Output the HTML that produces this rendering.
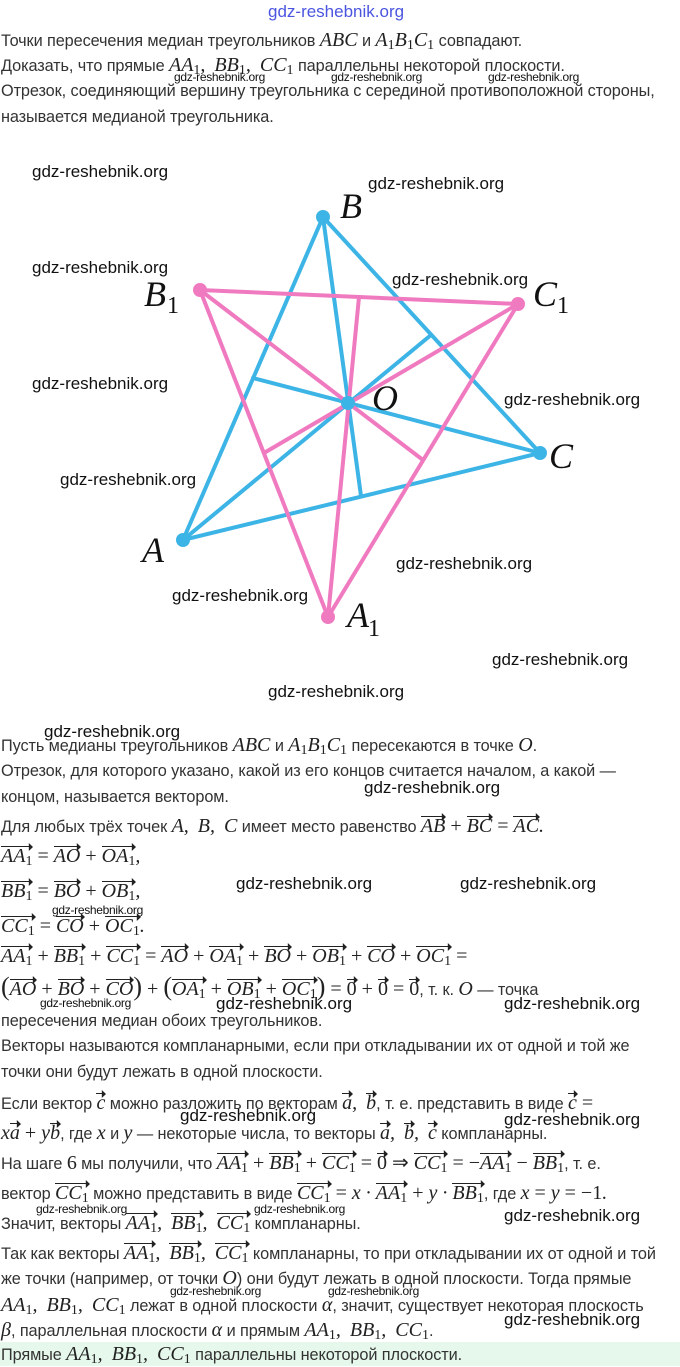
<!DOCTYPE html>
<html><head><meta charset="utf-8"><style>
body{margin:0;width:680px;height:1366px;position:relative;background:#fff;overflow:hidden;font-family:"Liberation Sans",sans-serif;color:#333}
.l{position:absolute;left:1px;font-size:16.3px;line-height:22px;white-space:nowrap;letter-spacing:-0.1px}
.m{font-family:"Liberation Serif",serif;font-style:italic;font-size:20px;color:#222;letter-spacing:0}
.n{font-family:"Liberation Serif",serif;font-style:normal;font-size:20px;color:#222}
sub{font-style:normal;font-size:14px;vertical-align:-3px;line-height:0}
.c{margin-right:9px}
.v{display:inline-block;position:relative;border-top:1.2px solid #222;line-height:18px;margin-top:4px;padding-top:0}
.v::after{content:"";position:absolute;right:-1px;top:-4.5px;border-left:7px solid #222;border-top:4px solid transparent;border-bottom:4px solid transparent;transform:scaleX(.6);transform-origin:right}
.w{position:absolute;font-family:"Liberation Sans",sans-serif;font-size:17px;color:#111;white-space:nowrap}
.ws{position:absolute;font-family:"Liberation Sans",sans-serif;font-size:12px;color:#111;white-space:nowrap;letter-spacing:-.3px}
.green{position:absolute;left:0;top:1342px;width:680px;height:24px;background:#e6f8ec}
</style></head><body>
<div class="w" style="left:268px;top:2px;color:#4b55e0;font-size:17px">gdz-reshebnik.org</div>
<div class="l" style="top:29px">Точки пересечения медиан треугольников <span class="m">ABC</span> и <span class="m">A<sub>1</sub>B<sub>1</sub>C<sub>1</sub></span> совпадают.</div>
<div class="l" style="top:54px">Доказать, что прямые <span class="m">AA<sub>1</sub>,<span class="c"></span>BB<sub>1</sub>,<span class="c"></span>CC<sub>1</sub></span> параллельны некоторой плоскости.</div>
<div class="ws" style="left:174px;top:70px">gdz-reshebnik.org</div>
<div class="ws" style="left:331px;top:70px">gdz-reshebnik.org</div>
<div class="ws" style="left:488px;top:70px">gdz-reshebnik.org</div>
<div class="l" style="top:80px">Отрезок, соединяющий вершину треугольника с серединой противоположной стороны,</div>
<div class="l" style="top:106px">называется медианой треугольника.</div>

<svg style="position:absolute;left:0;top:0" width="680" height="700">
<g stroke="#3db4e6" stroke-width="4" fill="none" stroke-linecap="round">
<polygon points="183,540 323,217 540,453"/>
<line x1="183" y1="540" x2="431" y2="335"/>
<line x1="323" y1="217" x2="361" y2="496"/>
<line x1="540" y1="453" x2="253" y2="378"/>
</g>
<g stroke="#f07ac0" stroke-width="4" fill="none" stroke-linecap="round">
<polygon points="328,617 200,290 518,304"/>
<line x1="328" y1="617" x2="359" y2="297"/>
<line x1="200" y1="290" x2="423" y2="460"/>
<line x1="518" y1="304" x2="264" y2="453"/>
</g>
<g fill="#3db4e6"><circle cx="323" cy="217" r="7"/><circle cx="540" cy="453" r="7"/><circle cx="183" cy="540" r="7"/><circle cx="348" cy="403" r="7"/></g>
<g fill="#f07ac0"><circle cx="200" cy="290" r="7"/><circle cx="518" cy="304" r="7"/><circle cx="328" cy="617" r="7"/></g>
<g font-family="Liberation Serif" font-style="italic" font-size="36" fill="#111">
<text x="340" y="218">B</text>
<text x="144" y="306">B</text><text x="167" y="313" font-style="normal" font-size="24">1</text>
<text x="533" y="306">C</text><text x="557" y="313" font-style="normal" font-size="24">1</text>
<text x="372" y="410">O</text>
<text x="549" y="468">C</text>
<text x="142" y="562">A</text>
<text x="347" y="627">A</text><text x="368" y="636" font-style="normal" font-size="24">1</text>
</g>
</svg>
<div class="w" style="left:32px;top:162px">gdz-reshebnik.org</div>
<div class="w" style="left:368px;top:174px">gdz-reshebnik.org</div>
<div class="w" style="left:32px;top:258px">gdz-reshebnik.org</div>
<div class="w" style="left:392px;top:270px">gdz-reshebnik.org</div>
<div class="w" style="left:32px;top:374px">gdz-reshebnik.org</div>
<div class="w" style="left:504px;top:390px">gdz-reshebnik.org</div>
<div class="w" style="left:60px;top:470px">gdz-reshebnik.org</div>
<div class="w" style="left:396px;top:554px">gdz-reshebnik.org</div>
<div class="w" style="left:172px;top:586px">gdz-reshebnik.org</div>
<div class="w" style="left:492px;top:650px">gdz-reshebnik.org</div>
<div class="w" style="left:268px;top:682px">gdz-reshebnik.org</div>
<div class="w" style="left:44px;top:722px">gdz-reshebnik.org</div>

<div class="l" style="top:734px">Пусть медианы треугольников <span class="m">ABC</span> и <span class="m">A<sub>1</sub>B<sub>1</sub>C<sub>1</sub></span> пересекаются в точке <span class="m">O</span>.</div>
<div class="l" style="top:760px">Отрезок, для которого указано, какой из его концов считается началом, а какой —</div>
<div class="w" style="left:364px;top:778px">gdz-reshebnik.org</div>
<div class="l" style="top:786px">концом, называется вектором.</div>
<div class="l" style="top:812px">Для любых трёх точек <span class="m">A,<span class="c"></span>B,<span class="c"></span>C</span> имеет место равенство <span class="m"><span class="v">AB</span> <span class="n">+</span> <span class="v">BC</span> <span class="n">=</span> <span class="v">AC</span>.</span></div>
<div class="l" style="top:842px"><span class="m"><span class="v">AA<sub>1</sub></span> <span class="n">=</span> <span class="v">AO</span> <span class="n">+</span> <span class="v">OA<sub>1</sub></span>,</span></div>
<div class="l" style="top:877px"><span class="m"><span class="v">BB<sub>1</sub></span> <span class="n">=</span> <span class="v">BO</span> <span class="n">+</span> <span class="v">OB<sub>1</sub></span>,</span></div>
<div class="w" style="left:236px;top:874px">gdz-reshebnik.org</div>
<div class="w" style="left:460px;top:874px">gdz-reshebnik.org</div>
<div class="ws" style="left:52px;top:903px">gdz-reshebnik.org</div>
<div class="l" style="top:912px"><span class="m"><span class="v">CC<sub>1</sub></span> <span class="n">=</span> <span class="v">CO</span> <span class="n">+</span> <span class="v">OC<sub>1</sub></span>.</span></div>
<div class="l" style="top:942px"><span class="m"><span class="v">AA<sub>1</sub></span> <span class="n">+</span> <span class="v">BB<sub>1</sub></span> <span class="n">+</span> <span class="v">CC<sub>1</sub></span> <span class="n">=</span> <span class="v">AO</span> <span class="n">+</span> <span class="v">OA<sub>1</sub></span> <span class="n">+</span> <span class="v">BO</span> <span class="n">+</span> <span class="v">OB<sub>1</sub></span> <span class="n">+</span> <span class="v">CO</span> <span class="n">+</span> <span class="v">OC<sub>1</sub></span> <span class="n">=</span></span></div>
<div class="l" style="top:975px"><span class="m"><span class="n" style="font-size:26px">(</span><span class="v">AO</span> <span class="n">+</span> <span class="v">BO</span> <span class="n">+</span> <span class="v">CO</span><span class="n" style="font-size:26px">)</span> <span class="n">+</span> <span class="n" style="font-size:26px">(</span><span class="v">OA<sub>1</sub></span> <span class="n">+</span> <span class="v">OB<sub>1</sub></span> <span class="n">+</span> <span class="v">OC<sub>1</sub></span><span class="n" style="font-size:26px">)</span> <span class="n">=</span> <span class="v n">0</span> <span class="n">+</span> <span class="v n">0</span> <span class="n">=</span> <span class="v n">0</span></span>, т. к. <span class="m">O</span> — точка</div>
<div class="ws" style="left:40px;top:996px">gdz-reshebnik.org</div>
<div class="w" style="left:216px;top:994px">gdz-reshebnik.org</div>
<div class="w" style="left:504px;top:994px">gdz-reshebnik.org</div>
<div class="l" style="top:1010px">пересечения медиан обоих треугольников.</div>
<div class="l" style="top:1035px">Векторы называются компланарными, если при откладывании их от одной и той же</div>
<div class="l" style="top:1061px">точки они будут лежать в одной плоскости.</div>
<div class="l" style="top:1089px">Если вектор <span class="m"><span class="v">c</span></span> можно разложить по векторам <span class="m"><span class="v">a</span>,<span class="c"></span><span class="v">b</span></span>, т. е. представить в виде <span class="m"><span class="v">c</span> <span class="n">=</span></span></div>
<div class="w" style="left:180px;top:1106px">gdz-reshebnik.org</div>
<div class="w" style="left:504px;top:1110px">gdz-reshebnik.org</div>
<div class="l" style="top:1119px"><span class="m">x<span class="v">a</span> <span class="n">+</span> y<span class="v">b</span></span>, где <span class="m">x</span> и <span class="m">y</span> — некоторые числа, то векторы <span class="m"><span class="v">a</span>,<span class="c"></span><span class="v">b</span>,<span class="c"></span><span class="v">c</span></span> компланарны.</div>
<div class="l" style="top:1149px">На шаге <span class="n">6</span> мы получили, что <span class="m"><span class="v">AA<sub>1</sub></span> <span class="n">+</span> <span class="v">BB<sub>1</sub></span> <span class="n">+</span> <span class="v">CC<sub>1</sub></span> <span class="n">=</span> <span class="v n">0</span> <span class="n">⇒</span> <span class="v">CC<sub>1</sub></span> <span class="n">= −</span><span class="v">AA<sub>1</sub></span> <span class="n">−</span> <span class="v">BB<sub>1</sub></span></span>, т. е.</div>
<div class="l" style="top:1179px">вектор <span class="m"><span class="v">CC<sub>1</sub></span></span> можно представить в виде <span class="m"><span class="v">CC<sub>1</sub></span> <span class="n">=</span> x · <span class="v">AA<sub>1</sub></span> <span class="n">+</span> y · <span class="v">BB<sub>1</sub></span></span>, где <span class="m">x <span class="n">=</span> y <span class="n">= −1</span>.</span></div>
<div class="ws" style="left:36px;top:1202px">gdz-reshebnik.org</div>
<div class="ws" style="left:254px;top:1202px">gdz-reshebnik.org</div>
<div class="w" style="left:504px;top:1206px">gdz-reshebnik.org</div>
<div class="l" style="top:1209px">Значит, векторы <span class="m"><span class="v">AA<sub>1</sub></span>,<span class="c"></span><span class="v">BB<sub>1</sub></span>,<span class="c"></span><span class="v">CC<sub>1</sub></span></span> компланарны.</div>
<div class="l" style="top:1239px">Так как векторы <span class="m"><span class="v">AA<sub>1</sub></span>,<span class="c"></span><span class="v">BB<sub>1</sub></span>,<span class="c"></span><span class="v">CC<sub>1</sub></span></span> компланарны, то при откладывании их от одной и той</div>
<div class="l" style="top:1267px">же точки (например, от точки <span class="m">O</span>) они будут лежать в одной плоскости. Тогда прямые</div>
<div class="ws" style="left:170px;top:1284px">gdz-reshebnik.org</div>
<div class="ws" style="left:328px;top:1284px">gdz-reshebnik.org</div>
<div class="l" style="top:1294px"><span class="m">AA<sub>1</sub>,<span class="c"></span>BB<sub>1</sub>,<span class="c"></span>CC<sub>1</sub></span> лежат в одной плоскости <span class="m">α</span>, значит, существует некоторая плоскость</div>
<div class="w" style="left:504px;top:1310px">gdz-reshebnik.org</div>
<div class="l" style="top:1319px"><span class="m">β</span>, параллельная плоскости <span class="m">α</span> и прямым <span class="m">AA<sub>1</sub>,<span class="c"></span>BB<sub>1</sub>,<span class="c"></span>CC<sub>1</sub></span>.</div>
<div class="green"></div>
<div class="l" style="top:1343px">Прямые <span class="m">AA<sub>1</sub>,<span class="c"></span>BB<sub>1</sub>,<span class="c"></span>CC<sub>1</sub></span> параллельны некоторой плоскости.</div>
</body></html>
